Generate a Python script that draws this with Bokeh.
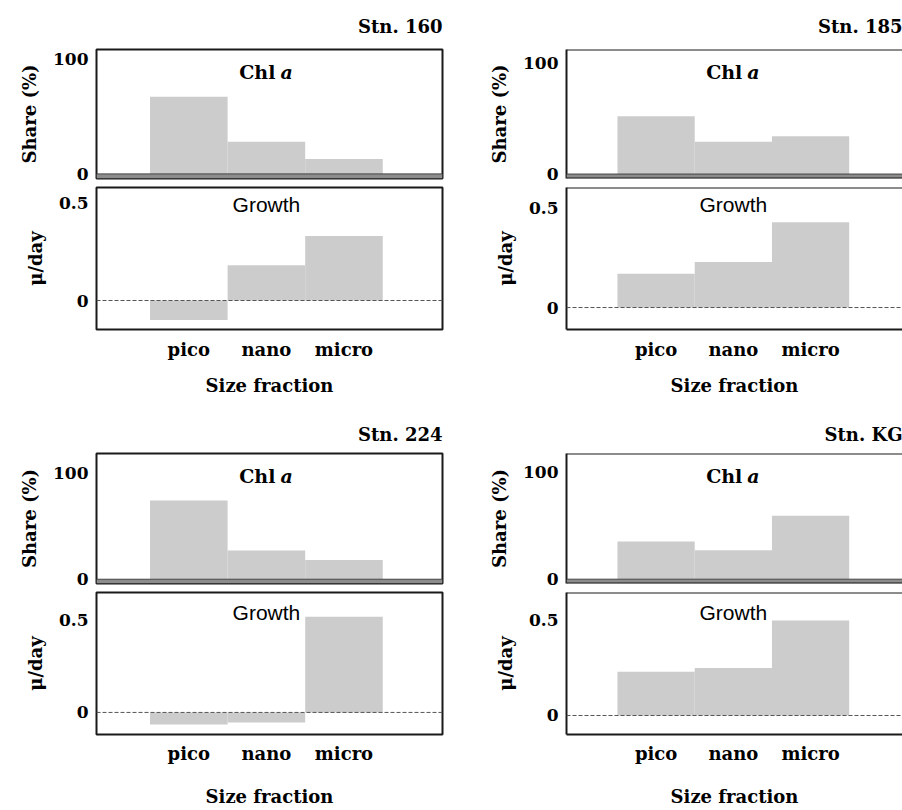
from bokeh.plotting import figure
from bokeh.layouts import column, row
from bokeh.models import Range1d, FixedTicker, Span, Label, ColumnDataSource, BoxAnnotation
from bokeh.embed import file_html
from bokeh.resources import INLINE

# ---------------- data ----------------
categories = ["pico", "nano", "micro"]
stations = ["Stn. 160", "Stn. 185", "Stn. 224", "Stn. KG"]

share_160 = [67, 28, 13]
share_185 = [52, 29, 34]
share_224 = [74, 27, 18]
share_KG = [35, 27, 59]

growth_160 = [-0.10, 0.18, 0.33]
growth_185 = [0.17, 0.23, 0.43]
growth_224 = [-0.065, -0.055, 0.52]
growth_KG = [0.23, 0.25, 0.50]

share_ticks = [0, 100]
growth_ticks = [0, 0.5]
growth_tick_labels = ["0", "0.5"]

share_label = "Share (%)"
growth_axis_label = "\u03bc/day"
xaxis_label = "Size fraction"

# ---------------- styling ----------------
SERIF = "DejaVu Serif"
SANS = "Liberation Sans"
BAR = "#cccccc"
EDGE = "#1a1a1a"
BAND = "#8c8c8c"

FW_L, FW_R = 346, 336
XR_L = (-0.19, 4.27)
XR_R = (-0.16, 4.19)

SHARE_YMIN = -4
share_ymax = [108, 112, 118, 117]
growth_yr = [(-0.148, 0.577), (-0.111, 0.606), (-0.12, 0.652), (-0.10, 0.647)]

xs = list(range(1, len(categories) + 1))


def base_style(p, right_col):
    p.xgrid.visible = False
    p.ygrid.visible = False
    p.background_fill_color = "white"
    p.border_fill_color = "white"
    if right_col:
        p.outline_line_color = None
    else:
        p.outline_line_color = EDGE
        p.outline_line_width = 2
    ya = p.yaxis[0]
    ya.major_tick_line_color = None
    ya.minor_tick_line_color = None
    ya.major_tick_out = 0
    ya.major_tick_in = 0
    ya.major_label_standoff = 8
    ya.major_label_text_font = SERIF
    ya.major_label_text_font_style = "bold"
    ya.major_label_text_font_size = "17px"
    ya.major_label_text_color = "black"
    ya.axis_label_text_font = SERIF
    ya.axis_label_text_font_style = "bold"
    ya.axis_label_text_font_size = "18px"
    ya.axis_label_text_color = "black"
    ya.axis_label_standoff = 10
    if right_col:
        ya.axis_line_color = EDGE
        ya.axis_line_width = 2
    else:
        ya.axis_line_color = None


def make_share(title, vals, ymax, right_col, top_border, frame_h, title_standoff):
    p = figure(output_backend="svg", toolbar_location=None, tools="",
               frame_width=FW_R if right_col else FW_L, frame_height=frame_h,
               x_range=Range1d(*(XR_R if right_col else XR_L)),
               y_range=Range1d(SHARE_YMIN, ymax),
               min_border_left=88 if right_col else 96,
               min_border_right=0 if right_col else 36,
               min_border_top=top_border, min_border_bottom=7)
    base_style(p, right_col)
    p.xaxis.visible = False
    p.yaxis.ticker = FixedTicker(ticks=share_ticks)
    p.yaxis.axis_label = share_label
    p.title.text = title
    p.title.align = "right"
    p.title.standoff = title_standoff
    p.title.text_font = SERIF
    p.title.text_font_style = "bold"
    p.title.text_font_size = "18px"
    p.title.text_color = "black"
    # dark band along the base of the share box
    p.add_layout(BoxAnnotation(top=0, fill_color=BAND, fill_alpha=1.0, line_color=None))
    src = ColumnDataSource(dict(x=xs, v=vals))
    p.vbar(x="x", top="v", bottom=0, width=1.0, source=src,
           fill_color=BAR, line_color=None)
    if right_col:
        p.add_layout(Span(location=ymax, dimension="width", line_color=EDGE, line_width=2))
        p.add_layout(Span(location=SHARE_YMIN, dimension="width", line_color=EDGE, line_width=2))
    p.add_layout(Span(location=0, dimension="width", line_color="#444444", line_width=1))
    ylab = ymax * 0.82
    p.add_layout(Label(x=xs[1], y=ylab, text="Chl", x_offset=9, text_align="right",
                       text_baseline="middle", text_font=SERIF, text_font_style="bold",
                       text_font_size="19px", text_color="black"))
    p.add_layout(Label(x=xs[1], y=ylab, text="a", x_offset=14, text_align="left",
                       text_baseline="middle", text_font=SERIF, text_font_style="bold italic",
                       text_font_size="19px", text_color="black"))
    return p


def make_growth(vals, yr, right_col, bottom_border, lab_standoff, ax_standoff, lab_frac):
    p = figure(output_backend="svg", toolbar_location=None, tools="",
               frame_width=FW_R if right_col else FW_L, frame_height=142,
               x_range=Range1d(*(XR_R if right_col else XR_L)),
               y_range=Range1d(*yr),
               min_border_left=88 if right_col else 96,
               min_border_right=0 if right_col else 36,
               min_border_top=2, min_border_bottom=bottom_border)
    base_style(p, right_col)
    p.yaxis.ticker = FixedTicker(ticks=growth_ticks)
    p.yaxis.major_label_overrides = {t: s for t, s in zip(growth_ticks, growth_tick_labels)}
    p.yaxis.axis_label = growth_axis_label
    xa = p.xaxis[0]
    xa.ticker = FixedTicker(ticks=xs)
    xa.major_label_overrides = {x: c for x, c in zip(xs, categories)}
    xa.major_tick_line_color = None
    xa.minor_tick_line_color = None
    xa.major_tick_out = 0
    xa.major_tick_in = 0
    xa.major_label_standoff = lab_standoff
    xa.major_label_text_font = SERIF
    xa.major_label_text_font_style = "bold"
    xa.major_label_text_font_size = "18px"
    xa.major_label_text_color = "black"
    xa.axis_label = xaxis_label
    xa.axis_label_text_font = SERIF
    xa.axis_label_text_font_style = "bold"
    xa.axis_label_text_font_size = "18px"
    xa.axis_label_text_color = "black"
    xa.axis_label_standoff = ax_standoff
    if right_col:
        xa.axis_line_color = EDGE
        xa.axis_line_width = 2
        p.add_layout(Span(location=yr[1], dimension="width", line_color=EDGE, line_width=2))
    else:
        xa.axis_line_color = None
    src = ColumnDataSource(dict(x=xs, v=vals))
    p.vbar(x="x", top="v", bottom=0, width=1.0, source=src,
           fill_color=BAR, line_color=None)
    p.add_layout(Span(location=0, dimension="width", line_color="#555555",
                      line_width=1, line_dash="4 2"))
    ylab = yr[1] - lab_frac * (yr[1] - yr[0])
    p.add_layout(Label(x=xs[1], y=ylab, text="Growth", text_align="center",
                       text_baseline="middle", text_font=SANS,
                       text_font_size="21px", text_color="black"))
    return p


shares = [share_160, share_185, share_224, share_KG]
growths = [growth_160, growth_185, growth_224, growth_KG]

s1 = make_share(stations[0], shares[0], share_ymax[0], False, 49, 129, 26)
s2 = make_share(stations[1], shares[1], share_ymax[1], True, 49, 129, 26)
g1 = make_growth(growths[0], growth_yr[0], False, 81, 9, 12, 0.12)
g2 = make_growth(growths[1], growth_yr[1], True, 81, 9, 12, 0.12)
s3 = make_share(stations[2], shares[2], share_ymax[2], False, 43, 130, 17)
s4 = make_share(stations[3], shares[3], share_ymax[3], True, 43, 130, 17)
g3 = make_growth(growths[2], growth_yr[2], False, 74, 8, 19, 0.14)
g4 = make_growth(growths[3], growth_yr[3], True, 74, 8, 19, 0.14)

layout = column(row(s1, s2), row(g1, g2), row(s3, s4), row(g3, g4))

open("out.html", "w").write(file_html(layout, INLINE))
